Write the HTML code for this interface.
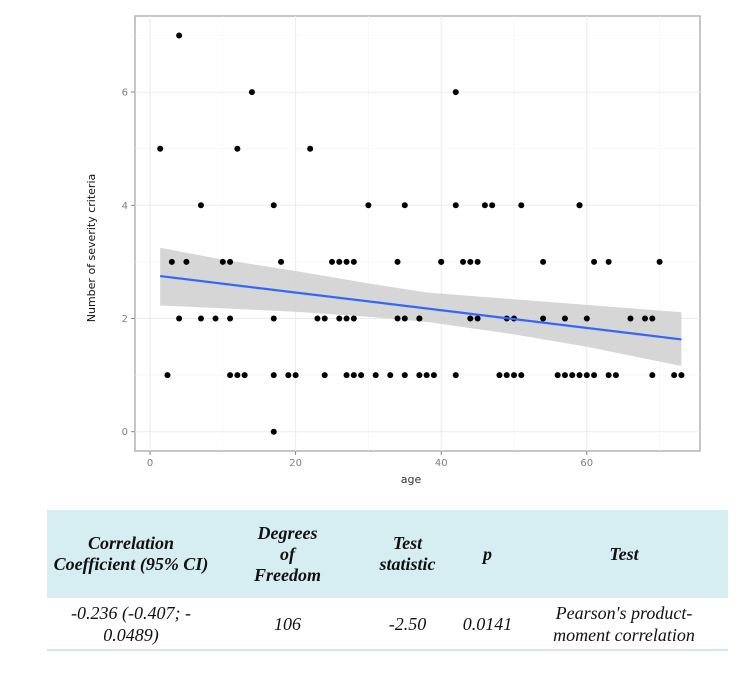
<!DOCTYPE html>
<html><head><meta charset="utf-8"><style>
html,body{margin:0;padding:0;background:#fff;width:744px;height:678px;overflow:hidden}
svg{position:absolute;left:0;top:0}
table{position:absolute;left:47px;top:510px;width:681px;border-collapse:collapse;font-family:"Liberation Serif",serif;font-style:italic;color:#111}
th{background:#d6eef2;font-weight:bold;font-size:18px;line-height:21px;height:88px;padding:0;text-align:center}
td{font-size:18px;line-height:22px;height:51px;padding:0;text-align:center;border-bottom:2px solid #d6e6f2}
</style></head><body>
<svg id="chart" width="744" height="500"></svg>
<table>
<tr>
<th style="width:168px">Correlation<br>Coefficient (95% CI)</th>
<th style="width:145px">Degrees<br>of<br>Freedom</th>
<th style="width:95px">Test<br>statistic</th>
<th style="width:65px">p</th>
<th>Test</th></tr>
<tr>
<td>-0.236 (-0.407; -<br>0.0489)</td>
<td>106</td>
<td>-2.50</td>
<td>0.0141</td>
<td>Pearson's product-<br>moment correlation</td></tr>
</table>
<script>
const xTicks=[0,20,40,60];
const yTicks=[0,2,4,6];
const ages=[4,14,42,1.4,12,22,7,17,30,35,42,46,47,51,59,59,
3,5,10,11,18,25,26,27,28,34,40,40,43,44,45,54,61,63,70,
4,7,9,11,17,23,24,26,27,28,34,35,37,37,44,45,49,50,54,57,60,66,68,69,
2.4,11,12,13,17,19,20,24,27,28,29,31,33,35,37,38,39,42,48,49,50,51,56,57,58,59,60,61,63,64,69,72,73,17];
const criteria=[7,6,6,5,5,5,4,4,4,4,4,4,4,4,4,4,
3,3,3,3,3,3,3,3,3,3,3,3,3,3,3,3,3,3,3,
2,2,2,2,2,2,2,2,2,2,2,2,2,2,2,2,2,2,2,2,2,2,2,2,
1,1,1,1,1,1,1,1,1,1,1,1,1,1,1,1,1,1,1,1,1,1,1,1,1,1,1,1,1,1,1,1,1,0];
const fitX=[1.4,73];
const fitY=[2.75,1.63];
const bandX=[1.4,10,20,30,38,50,60,73];
const bandUpper=[3.25,3.04,2.84,2.62,2.46,2.34,2.24,2.11];
const bandLower=[2.23,2.18,2.12,2.03,1.94,1.72,1.50,1.16];
const NS='http://www.w3.org/2000/svg';
const svg=document.getElementById('chart');
const L=135,T=16,R=700,B=451;
const xs=v=>150+7.28*v;
const ys=v=>431.7-56.6*v;
function mk(tag,attrs,parent){const e=document.createElementNS(NS,tag);for(const k in attrs)e.setAttribute(k,attrs[k]);(parent||svg).appendChild(e);return e;}
const panel=mk('rect',{x:L,y:T,width:R-L,height:B-T,fill:'#fff',stroke:'#b3b3b3','stroke-width':1.5});


for(let i=0;i<xTicks.length;i++){
  const v=xTicks[i];
  const g=mk('line',{x1:xs(v),x2:xs(v),y1:T,y2:B,stroke:'#ebebeb','stroke-width':1});
  
  
  const m=mk('line',{x1:xs(v+10),x2:xs(v+10),y1:T,y2:B,stroke:'#f4f4f4','stroke-width':0.6});
  
  
  const t=mk('line',{x1:xs(v),x2:xs(v),y1:B,y2:B+4,stroke:'#888'});
  
  
  const tx=mk('text',{x:xs(v),y:B+15,'text-anchor':'middle','font-family':'DejaVu Sans, sans-serif','font-size':10,fill:'#7f7f7f'});
  tx.textContent=v;
  
  
}
for(let i=0;i<yTicks.length;i++){
  const v=yTicks[i];
  const g=mk('line',{x1:L,x2:R,y1:ys(v),y2:ys(v),stroke:'#ebebeb','stroke-width':1});
  
  
  const m=mk('line',{x1:L,x2:R,y1:ys(v+1),y2:ys(v+1),stroke:'#f4f4f4','stroke-width':0.6});
  
  
  const t=mk('line',{x1:L-4,x2:L,y1:ys(v),y2:ys(v),stroke:'#888'});
  
  
  const tx=mk('text',{x:L-7,y:ys(v)+3.5,'text-anchor':'end','font-family':'DejaVu Sans, sans-serif','font-size':10,fill:'#7f7f7f'});
  tx.textContent=v;
  
  
}
let bp='';
for(let i=0;i<bandX.length;i++) bp+=(i?'L':'M')+xs(bandX[i])+','+ys(bandUpper[i])+' ';
for(let i=bandX.length-1;i>=0;i--) bp+='L'+xs(bandX[i])+','+ys(bandLower[i])+' ';
bp+='Z';
const band=mk('path',{d:bp,fill:'#cfcfcf','fill-opacity':0.85});


for(let i=0;i<ages.length;i++){
  const c=mk('circle',{cx:xs(ages[i]),cy:ys(criteria[i]),r:3,fill:'#000'});
  
  
}
const ln=mk('line',{x1:xs(fitX[0]),y1:ys(fitY[0]),x2:xs(fitX[1]),y2:ys(fitY[1]),stroke:'#3366ff','stroke-width':2.2});


const xt=mk('text',{x:411,y:483,'text-anchor':'middle','font-family':'DejaVu Sans, sans-serif','font-size':11,fill:'#333'});
xt.textContent='age';


const yt=mk('text',{x:0,y:0,'text-anchor':'middle','font-family':'DejaVu Sans, sans-serif','font-size':11,fill:'#111',transform:'translate(95,248) rotate(-90)'});
yt.textContent='Number of severity criteria';


</script>
</body></html>
